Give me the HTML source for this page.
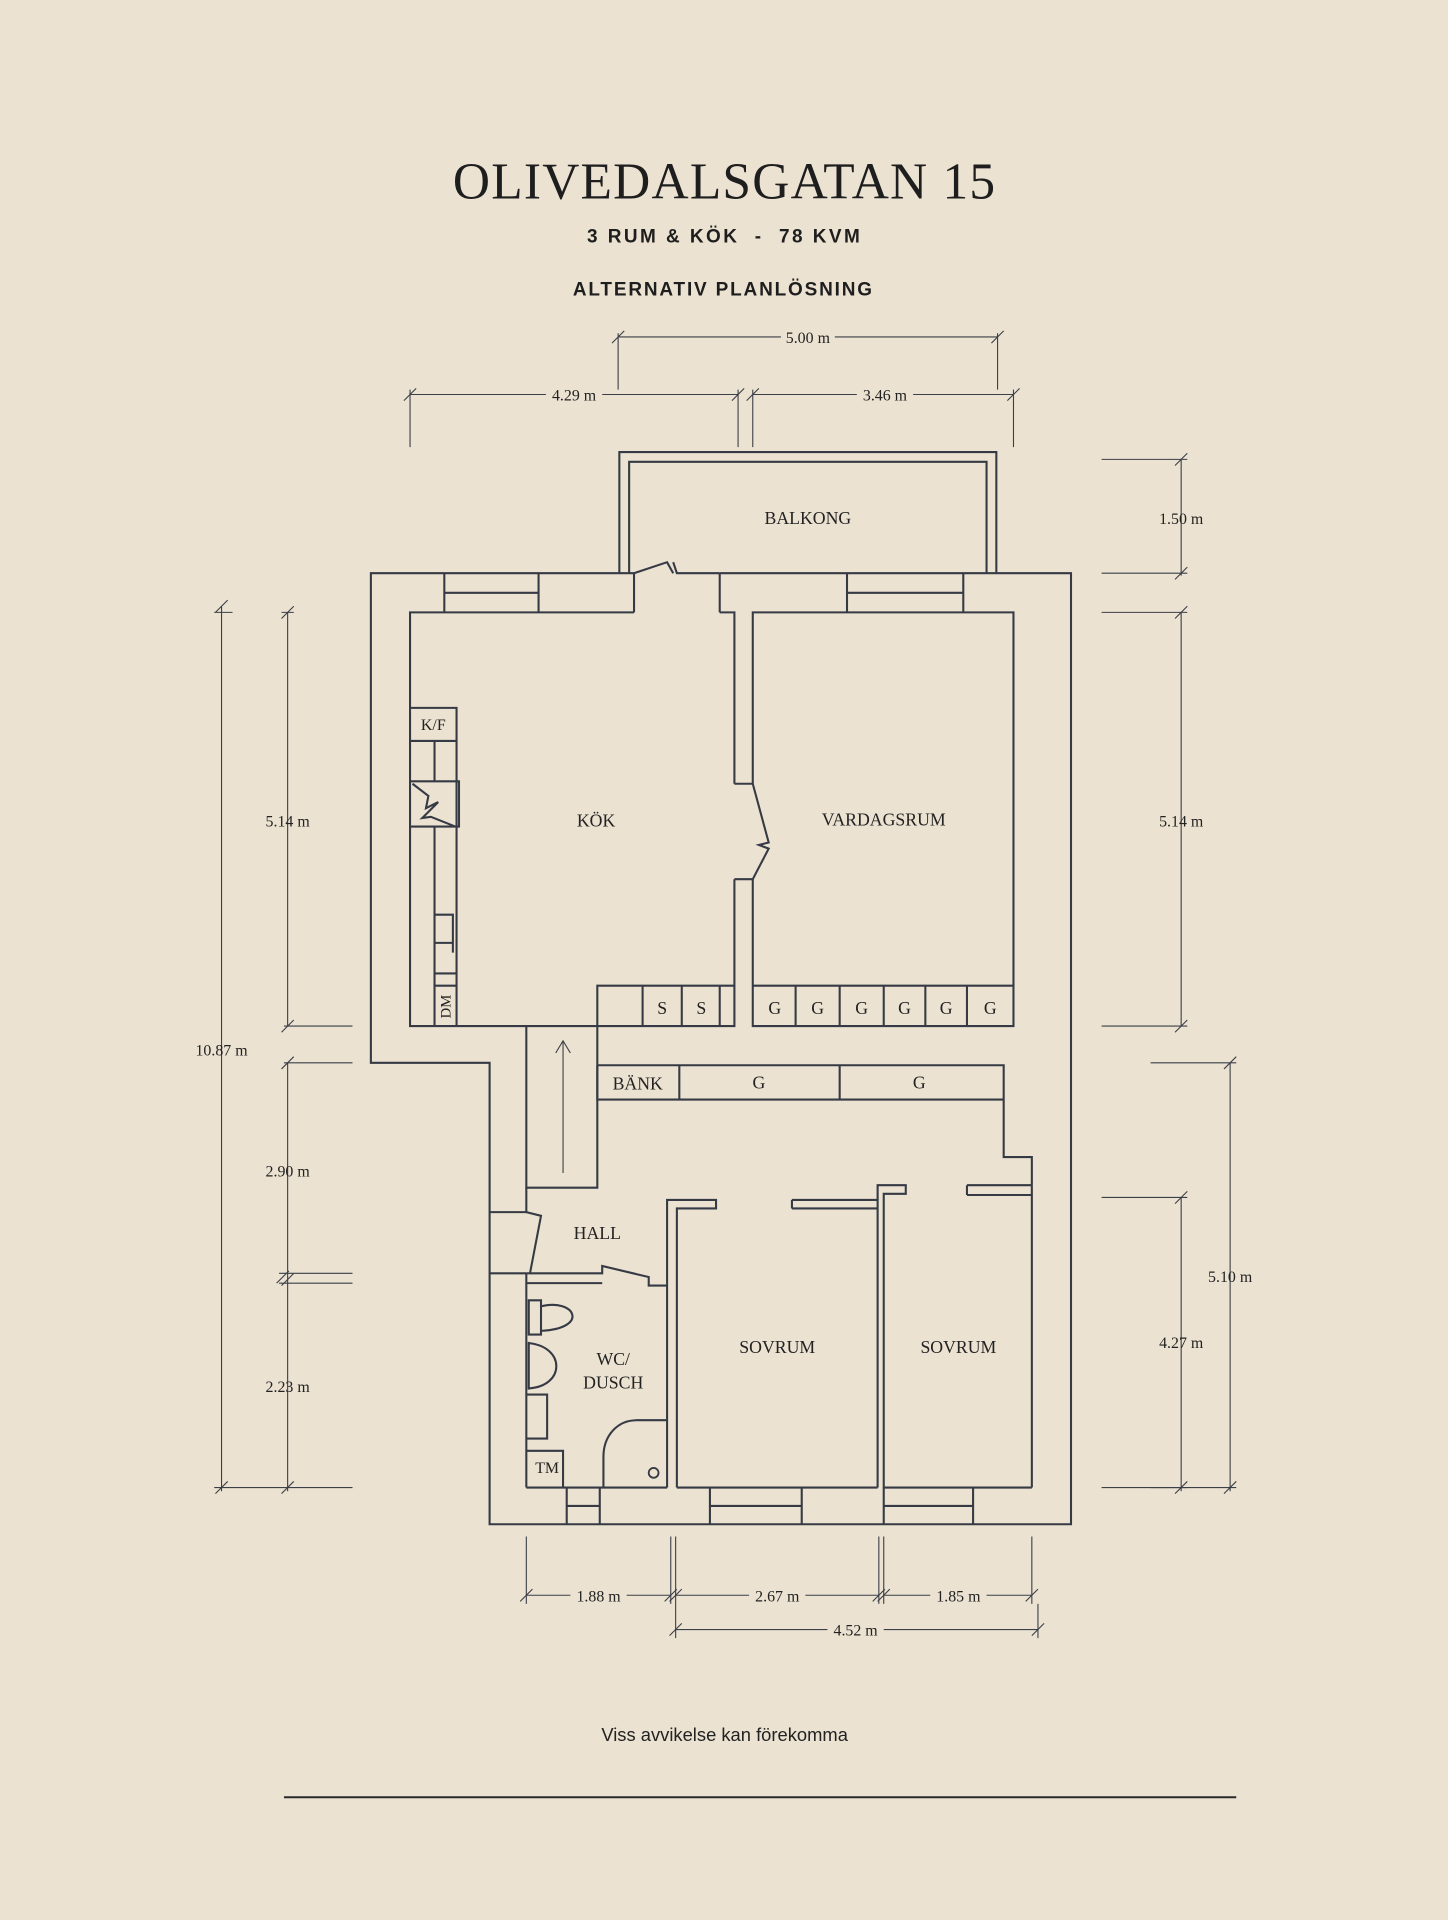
<!DOCTYPE html>
<html><head><meta charset="utf-8"><style>
html,body{margin:0;padding:0;background:#ebe2d1;}
svg{display:block}
.w{fill:none;stroke:#363a44;stroke-width:1.7;stroke-linejoin:miter}
.d{fill:none;stroke:#3b3f48;stroke-width:0.9}
.t{font-family:"Liberation Serif",serif;font-size:13px;fill:#222;text-anchor:middle}
.r{font-family:"Liberation Serif",serif;font-size:14.5px;fill:#222;text-anchor:middle}
</style></head><body>
<svg width="1448" height="1920" viewBox="0 0 1183 1568" xmlns="http://www.w3.org/2000/svg">
<rect width="1183" height="1568" fill="#ebe2d1"/>
<text x="592" y="162" text-anchor="middle" font-family="Liberation Serif,serif" font-size="42" fill="#1e1e1e" letter-spacing="1">OLIVEDALSGATAN 15</text>
<text x="592" y="198" text-anchor="middle" font-family="Liberation Sans,sans-serif" font-size="15.5" font-weight="bold" fill="#1e1e1e" letter-spacing="2" xml:space="preserve">3 RUM &amp; KÖK  -  78 KVM</text>
<text x="591" y="241" text-anchor="middle" font-family="Liberation Sans,sans-serif" font-size="15.5" font-weight="bold" fill="#1e1e1e" letter-spacing="1.5">ALTERNATIV PLANLÖSNING</text>

<path class="w" d="M518,468 H303 V868 H400 V1245 H875 V468 H588"/>
<path class="w" d="M506,468 V369 H814 V468 M514,468 V377 H806 V468"/>
<text class="r" x="660" y="428">BALKONG</text>
<path class="w" d="M518,468 L545,459 L550,468 M550,459 L553,468 L588,468 M518,500 V468 M588,500 V468"/>
<path class="w" d="M518,500 H335 V838 H600 V718 M600,640 V500 H588"/>
<path class="w" d="M615,640 V500 H828 V838 H615 V718"/>
<path class="w" d="M600,640 H615 L628,688 L620,690 L628,693 L615,718 H600"/>
<path class="w" d="M363,468 V500 M440,468 V500 M363,484 H440 M692,468 V500 M787,468 V500 M692,484 H787"/>
<path class="w" d="M335,578 H373 V838 M335,605 H373 M355,605 V638 M335,638 H375 V675 H335 M355,675 V838 M355,747 H370 V778 M355,770 H370 M355,795 H373 M355,805 H373"/>
<path class="w" d="M337,640 L350,650 L348,660 L358,655 L345,668 L352,667 L372,675" stroke-width="1.2"/>
<text class="t" x="354" y="596">K/F</text>
<text class="t" x="368" y="822" transform="rotate(-90 368 822)" style="font-size:12px">DM</text>
<text class="r" x="487" y="675">KÖK</text>
<text class="r" x="722" y="674">VARDAGSRUM</text>
<path class="w" d="M488,838 V805 H600 M525,805 V838 M557,805 V838 M588,805 V838"/>
<text class="r" x="541" y="828">S</text><text class="r" x="573" y="828">S</text>
<path class="w" d="M615,805 H828 M650,805 V838 M686,805 V838 M722,805 V838 M756,805 V838 M790,805 V838"/>
<text class="r" x="633" y="828">G</text><text class="r" x="668" y="828">G</text><text class="r" x="704" y="828">G</text><text class="r" x="739" y="828">G</text><text class="r" x="773" y="828">G</text><text class="r" x="809" y="828">G</text>
<path class="w" d="M430,838 V970 H488 V838"/>
<path class="d" d="M460,958 V850 M454,860 L460,850 L466,860" stroke-width="1.2"/>
<path class="w" d="M488,870 H820 V945 H843 V968 M488,870 V898 H820 M555,870 V898 M686,870 V898"/>
<text class="r" x="521" y="890">BÄNK</text><text class="r" x="620" y="889">G</text><text class="r" x="751" y="889">G</text>
<path class="w" d="M430,970 V990 H400 M430,1040 V1215 M400,1040 H430"/>
<path class="w" d="M430,990 L442,993 L433,1040"/>
<text class="r" x="488" y="1012">HALL</text>
<path class="w" d="M430,1040 H492 V1034 L530,1043 V1050 H545 M430,1048 H492"/>
<path class="w" d="M545,1050 V980 H585 V987 H553 V1215 M545,1050 V1215"/>
<path class="w" d="M647,980 H717 V1215 M647,987 H717 V980 M647,980 V987"/>
<path class="w" d="M717,980 V968 H740 V975 H722 V1215"/>
<path class="w" d="M790,968 H843 M790,976 H843 M790,968 V976 M843,968 V1215"/>
<path class="w" d="M430,1215 H545 M553,1215 H717 M722,1215 H843"/>
<text class="r" x="635" y="1105">SOVRUM</text>
<text class="r" x="783" y="1105">SOVRUM</text>
<path class="w" d="M463,1215 V1245 M490,1215 V1245 M463,1230 H490 M580,1215 V1245 M655,1215 V1245 M580,1230 H655 M722,1245 V1215 M795,1215 V1245 M722,1230 H795"/>
<path class="w" d="M432,1062 H442 V1090 H432 Z M442,1067 C470,1060 482,1085 442,1087" stroke-width="1.3"/>
<path class="w" d="M432,1096 V1135 M432,1097 C462,1100 462,1132 432,1134" stroke-width="1.8"/>
<path class="w" d="M430,1139 H447 V1175 H430 M430,1185 H460 V1215" stroke-width="1.3"/>
<text class="t" x="447" y="1203">TM</text>
<path class="w" d="M545,1160 H520 C505,1160 493,1172 493,1190 V1215" stroke-width="1.3"/>
<circle cx="534" cy="1203" r="4" fill="none" stroke="#363a44" stroke-width="1.5"/>
<text class="r" x="501" y="1115">WC/</text><text class="r" x="501" y="1134">DUSCH</text>

<g class="d">
<path d="M505,275 H815 M505,272 V318 M815,272 V318 M500,280 L510,270 M810,280 L820,270"/>
<path d="M335,322 H603 M615,322 H828 M335,318 V365 M603,318 V365 M615,318 V365 M828,318 V365 M330,327 L340,317 M598,327 L608,317 M610,327 L620,317 M823,327 L833,317"/>
<path d="M965,375 V470 M900,375 H970 M900,468 H970 M960,380 L970,370 M960,473 L970,463"/>
<path d="M965,500 V838 M900,500 H970 M900,838 H970 M960,505 L970,495 M960,843 L970,833"/>
<path d="M1005,868 V1218 M940,868 H1010 M940,1215 H1010 M1000,873 L1010,863 M1000,1220 L1010,1210"/>
<path d="M965,978 V1218 M900,978 H970 M900,1215 H970 M960,983 L970,973 M960,1220 L970,1210"/>
<path d="M181,495 V1218 M175,500 H190 M176,500 L186,490 M176,1220 L186,1210 M175,1215 H288"/>
<path d="M235,500 V838 M230,500 H240 M230,505 L240,495 M232,838 H288 M230,843 L240,833"/>
<path d="M235,868 V1045 M232,868 H288 M230,873 L240,863 M228,1040 H288 M228,1048 H288 M226,1048 L236,1038 M230,1050 L240,1040"/>
<path d="M235,1045 V1218 M230,1220 L240,1210"/>
<path d="M430,1303 H548 M552,1303 H718 M722,1303 H843 M552,1331 H848"/>
<path d="M430,1255 V1310 M548,1255 V1310 M552,1255 V1338 M718,1255 V1310 M722,1255 V1310 M843,1255 V1310 M848,1310 V1338"/>
<path d="M425,1308 L435,1298 M543,1308 L553,1298 M547,1308 L557,1298 M713,1308 L723,1298 M717,1308 L727,1298 M838,1308 L848,1298 M547,1336 L557,1326 M843,1336 L853,1326"/>
</g>
<g class="t">
<rect x="638" y="266" width="44" height="16" fill="#ebe2d1"/><text x="660" y="280">5.00 m</text>
<rect x="446" y="313" width="46" height="16" fill="#ebe2d1"/><text x="469" y="327">4.29 m</text>
<rect x="700" y="313" width="46" height="16" fill="#ebe2d1"/><text x="723" y="327">3.46 m</text>
<text x="965" y="428">1.50 m</text>
<text x="965" y="675">5.14 m</text>
<text x="1005" y="1047">5.10 m</text>
<text x="965" y="1101">4.27 m</text>
<text x="181" y="862">10.87 m</text>
<text x="235" y="675">5.14 m</text>
<text x="235" y="961">2.90 m</text>
<text x="235" y="1137">2.23 m</text>
<rect x="466" y="1295" width="46" height="16" fill="#ebe2d1"/><text x="489" y="1308">1.88 m</text>
<rect x="612" y="1295" width="46" height="16" fill="#ebe2d1"/><text x="635" y="1308">2.67 m</text>
<rect x="760" y="1295" width="46" height="16" fill="#ebe2d1"/><text x="783" y="1308">1.85 m</text>
<rect x="676" y="1323" width="46" height="16" fill="#ebe2d1"/><text x="699" y="1336">4.52 m</text>
</g>
<text x="592" y="1422" text-anchor="middle" font-family="Liberation Sans,sans-serif" font-size="15" fill="#222">Viss avvikelse kan förekomma</text>
<path d="M232,1468 H1010" stroke="#2a2a2a" stroke-width="1.6"/>
</svg>
</body></html>
